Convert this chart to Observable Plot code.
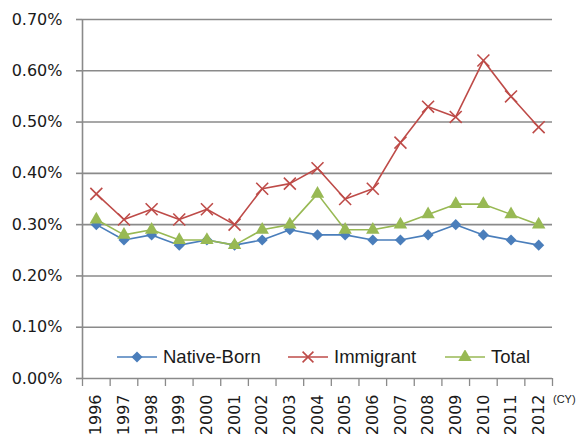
<!DOCTYPE html>
<html>
<head>
<meta charset="utf-8">
<script src="https://cdn.jsdelivr.net/npm/d3@7"></script>
<script src="https://cdn.jsdelivr.net/npm/@observablehq/plot@0.6"></script>
<style>
  html, body { margin: 0; padding: 0; background: #fff; }
  #wrap { position: relative; width: 576px; height: 435px; overflow: hidden; }
  #legend { position: absolute; left: 116px; top: 344px; height: 26px; width: 440px;
            font-family: "Liberation Sans", Arial, sans-serif; font-size: 18.5px; color: #1a1a1a; white-space: nowrap; }
  #legend .item { position: absolute; top: 0; display: flex; align-items: center; height: 26px; }
  #legend svg { margin-right: 5px; }
  #cy { position: absolute; left: 553px; top: 393px; font-family: "Liberation Sans", Arial, sans-serif; font-size: 11px; color: #222; }
</style>
</head>
<body>
<div id="wrap"></div>
<script>
const years = [1996,1997,1998,1999,2000,2001,2002,2003,2004,2005,2006,2007,2008,2009,2010,2011,2012];
const nativeBorn = [0.30,0.27,0.28,0.26,0.27,0.26,0.27,0.29,0.28,0.28,0.27,0.27,0.28,0.30,0.28,0.27,0.26];
const immigrant  = [0.36,0.31,0.33,0.31,0.33,0.30,0.37,0.38,0.41,0.35,0.37,0.46,0.53,0.51,0.62,0.55,0.49];
const total      = [0.31,0.28,0.29,0.27,0.27,0.26,0.29,0.30,0.36,0.29,0.29,0.30,0.32,0.34,0.34,0.32,0.30];
const yTicks = [0,0.1,0.2,0.3,0.4,0.5,0.6,0.7];
const seriesNames = ["Native-Born","Immigrant","Total"];
const colors = ["#4A7EBB","#BE4B48","#98B954"];
const symbols = ["diamond2","times","triangle"];

const seriesValues = [nativeBorn, immigrant, total];
const data = seriesNames.flatMap((s, i) => years.map((y, j) => ({series: s, year: y, value: seriesValues[i][j] / 100})));
const boundaries = [...years.map(y => y - 0.5), years[years.length - 1] + 0.5];
const xDomain = [years[0] - 0.5, years[years.length - 1] + 0.5];
const grid = "#8a8a8a";

const marks = [
  Plot.ruleY(yTicks.slice(1).map(v => v / 100), {stroke: grid, strokeWidth: 1.6}),
  Plot.axisY(yTicks.map(v => v / 100), {tickSize: 6, tickPadding: 14, stroke: grid, strokeWidth: 1.6, label: null,
    tickFormat: d3.format(".2%"), fontSize: 16, fill: "#1a1a1a"}),
  Plot.axisX(boundaries, {tickSize: 8, tickFormat: () => "", stroke: grid, strokeWidth: 1.3, label: null}),
  Plot.axisX(years, {tickSize: 0, tickPadding: 16, tickRotate: -90, tickFormat: d => String(d), fontSize: 16, fill: "#1a1a1a", label: null}),
  Plot.ruleY([0], {stroke: grid, strokeWidth: 1.6}),
  Plot.ruleX([xDomain[0]], {stroke: grid, strokeWidth: 1.6})
];
seriesNames.forEach((s, i) => {
  const d = data.filter(r => r.series === s);
  marks.push(Plot.line(d, {x: "year", y: "value", stroke: colors[i], strokeWidth: 1.6}));
  if (symbols[i] === "times") {
    marks.push(Plot.dot(d, {x: "year", y: "value", symbol: "times", r: 5.5, stroke: colors[i], strokeWidth: 1.6}));
  } else {
    marks.push(Plot.dot(d, {x: "year", y: "value", symbol: symbols[i], r: 5, fill: colors[i], stroke: "none"}));
  }
});

const chart = Plot.plot({
  width: 576, height: 435,
  marginLeft: 82, marginRight: 24, marginTop: 19, marginBottom: 57,
  style: {fontFamily: "'DejaVu Sans', sans-serif", fontSize: "16px", background: "#fff"},
  x: {type: "linear", domain: xDomain, axis: null, label: null},
  y: {domain: [0, 0.007], axis: null, label: null},
  marks
});
const wrap = document.getElementById("wrap");
wrap.appendChild(chart);

// Legend
const legend = document.createElement("div");
legend.id = "legend";
const legendX = [0, 171, 328];
seriesNames.forEach((s, i) => {
  const item = document.createElement("div");
  item.className = "item";
  item.style.left = legendX[i] + "px";
  const sym = d3.symbol(i === 0 ? d3.symbolDiamond2 : i === 1 ? d3.symbolTimes : d3.symbolTriangle, Math.PI * 25)();
  const fill = i === 1 ? "none" : colors[i];
  item.innerHTML = `<svg width="42" height="14" viewBox="-21 -7 42 14"><line x1="-20" x2="20" y1="0" y2="0" stroke="${colors[i]}" stroke-width="1.6"/><path d="${sym}" fill="${fill}" stroke="${i === 1 ? colors[i] : 'none'}" stroke-width="1.6"/></svg><span>${s}</span>`;
  legend.appendChild(item);
});
wrap.appendChild(legend);

const cy = document.createElement("div");
cy.id = "cy";
cy.textContent = "(CY)";
wrap.appendChild(cy);
</script>
</body>
</html>
